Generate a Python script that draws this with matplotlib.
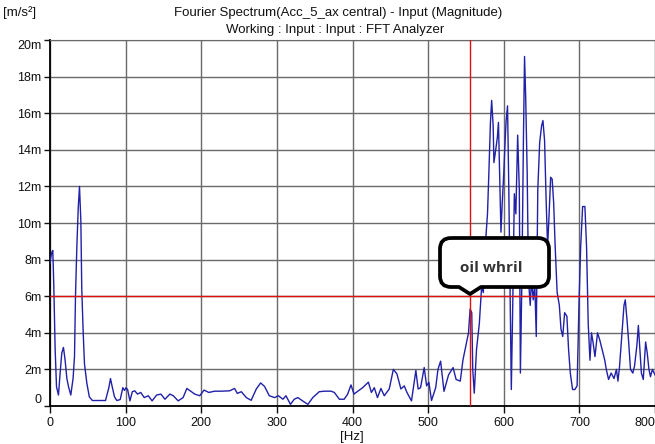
import matplotlib
matplotlib.use('Agg')
import matplotlib.pyplot as plt
from matplotlib.path import Path
from matplotlib.patches import PathPatch
import numpy as np

# spectrum, frequency in Hz and magnitude in milli m/s^2
freq = [0, 0.6, 2.4, 3.7, 5, 6.8, 8.6, 11.2, 13.4, 15.6, 17.8, 20, 22.3, 24.5, 27.5,
        30.5, 32.4, 33.7, 35.5, 37.3, 39, 40.8, 42, 43.9, 45.6, 48.7, 52, 56, 73.4,
        77.8, 80, 82, 85.3, 88.4, 92.8, 96.3, 98.5, 100.5, 102.6, 105.7, 108.8, 112,
        115.8, 120, 124.6, 130, 135, 141, 146.6, 152, 158.5, 163, 169.5, 176, 181,
        187, 191.4, 198, 203.7, 210, 217.8, 226.6, 237.6, 244, 247.7, 253, 259.6,
        266, 272.8, 278.5, 283.7, 290, 297, 302, 308, 312, 318, 323, 327.7, 334,
        341, 347.5, 356, 363, 371.7, 376, 382.6, 389, 393.6, 398, 402, 407.7,
        413.4, 421, 425, 428.8, 433, 437.6, 442, 448.6, 454, 458.7, 464, 468.4,
        472, 478, 483.8, 486.8, 490, 494.8, 498, 501, 504.5, 510, 513, 516.5,
        521, 527, 533, 537, 542.5, 546, 549, 553.4, 555.5, 557.7, 559, 561, 564,
        567.7, 570.7, 573, 575.5, 578.5, 580.3, 582.4, 584, 586, 587, 589.4,
        591.6, 593, 594.6, 596.3, 598, 600, 601.5, 603, 605, 606.7, 608.5, 610,
        612, 614, 616, 618.4, 620.6, 622, 624, 626, 627.5, 629, 631, 632.7, 635,
        636.6, 639, 641, 643, 645, 647.5, 650, 651.8, 654, 656, 658, 660, 662,
        664, 666, 668, 670.6, 673.5, 675.7, 678, 680.5, 683.5, 685.7, 688, 691,
        694, 697, 699.5, 701.7, 704.3, 707.3, 709.5, 711.7, 714, 716, 718, 720.6,
        724, 727, 730, 733.6, 735.6, 738.6, 742, 745.8, 749, 751, 753, 756.4,
        759, 760.7, 763, 765, 767.6, 770.7, 773, 776, 778, 780, 782, 784.5,
        787.6, 789.7, 792, 794, 796.5, 800]
amp = [7.8, 8.0, 8.4, 8.5, 6.6, 3.1, 1.05, 0.6, 1.8, 2.9, 3.2, 2.5, 1.5, 1.05, 0.6,
       1.5, 2.7, 6.0, 8.7, 10.8, 12.0, 10.1, 6.4, 4.0, 2.3, 1.25, 0.5, 0.3, 0.3,
       1.0, 1.5, 1.1, 0.5, 0.3, 0.35, 1.0, 0.85, 1.0, 0.9, 0.28, 0.78, 0.83,
       0.65, 0.74, 0.46, 0.56, 0.28, 0.6, 0.65, 0.37, 0.65, 0.56, 0.28, 0.46, 0.96,
       0.78, 0.65, 0.56, 0.87, 0.74, 0.81, 0.81, 0.83, 0.96, 0.69, 0.78, 0.46,
       0.31, 0.93, 1.26, 1.07, 0.56, 0.46, 0.56, 0.37, 0.56, 0.09, 0.37, 0.46, 0.28,
       0.09, 0.46, 0.78, 0.81, 0.81, 0.74, 0.37, 0.37, 0.65, 1.15, 0.65, 0.83,
       1.0, 1.3, 0.74, 1.0, 0.46, 0.96, 0.56, 0.93, 2.0, 1.76, 0.93, 1.1,
       0.74, 0.28, 1.94, 0.93, 1.0, 2.1, 1.1, 1.3, 0.3, 1.0, 2.0, 2.45,
       0.8, 1.7, 2.1, 1.45, 1.36, 2.5, 3.1, 4.0, 5.3, 5.1, 2.0, 0.7, 3.1,
       4.5, 6.5, 6.2, 8.7, 10.5, 12.7, 15.5, 16.7, 15.3, 13.3, 14.0,
       14.7, 15.5, 12.7, 9.5, 11.1, 12.7, 14.2, 15.5, 16.4, 11.8, 5.8, 0.9,
       5.8, 11.6, 10.5, 14.8, 11.8, 1.8, 6.9, 14.5, 19.1, 16.9, 12.7, 6.9, 5.5,
       6.9, 5.8, 6.7, 3.8, 11.8, 14.4, 15.3, 15.6, 14.5, 11.3, 8.7, 10.5, 12.5,
       12.4, 11.1, 8.7, 6.2, 5.5, 4.2, 3.8, 5.1, 4.9, 3.1, 1.8, 0.9,
       0.9, 1.1, 5.6, 8.7, 10.9, 10.9, 8.7, 4.5, 2.5, 4.0, 3.5, 2.7,
       4.0, 3.6, 3.1, 2.5, 2.0, 1.45, 1.8, 1.5, 2.0, 1.36, 2.1, 4.0,
       5.5, 5.8, 4.7, 3.6, 2.0, 1.8, 2.2, 3.3, 4.4, 3.1, 1.8, 1.45,
       3.5, 2.9, 2.0, 1.6, 2.0, 1.7]

xticks = [0, 100, 200, 300, 400, 500, 600, 700, 800]
yticks = [0, 2, 4, 6, 8, 10, 12, 14, 16, 18, 20]
ylabels = ['0', '2m', '4m', '6m', '8m', '10m', '12m', '14m', '16m', '18m', '20m']

cursor_x = 556   # red cursor, Hz
cursor_y = 6     # red cursor, m/s^2 (milli)

W, H = 655, 444
plt.rcParams['font.family'] = ['Liberation Sans', 'DejaVu Sans']


def px(x, y):  # pixel (y down) -> figure fraction
    return x / W, 1 - y / H


def callout(fig):
    # rounded box with a little spike pointing at the cursor crossing
    l, r, t, b, rad = 440, 549, 238, 287, 11
    pts = [(l + rad, t), (r - rad, t), (r, t), (r, t + rad), (r, b - rad), (r, b), (r - rad, b),
           (481, b), (470, 294), (459, b), (l + rad, b), (l, b), (l, b - rad),
           (l, t + rad), (l, t), (l + rad, t)]
    codes = [Path.MOVETO, Path.LINETO, Path.CURVE3, Path.CURVE3, Path.LINETO, Path.CURVE3,
             Path.CURVE3, Path.LINETO, Path.LINETO, Path.LINETO, Path.LINETO, Path.CURVE3,
             Path.CURVE3, Path.LINETO, Path.CURVE3, Path.CURVE3]
    path = Path([px(*p) for p in pts], codes)
    fig.patches.append(PathPatch(path, transform=fig.transFigure, facecolor='white',
                                 edgecolor='black', lw=2.7, joinstyle='round', zorder=5))
    fig.text(*px(491, 268), 'oil whril', ha='center', va='center', fontsize=11,
             fontweight='bold', family=['Open Sans', 'DejaVu Sans'], color='#333333', zorder=6)


def main():
    fig = plt.figure(figsize=(W / 100, H / 100), dpi=100)
    ax = fig.add_axes([50 / W, 38 / H, 605 / W, 366 / H])
    ax.plot(freq, amp, color='#2020a8', lw=1, zorder=3)
    ax.axvline(cursor_x, color='#e01010', lw=1, zorder=4)
    ax.axhline(cursor_y, color='#e01010', lw=1, zorder=4)
    ax.set_xlim(0, 800)
    ax.set_ylim(0, 20)
    ax.set_xticks(xticks)
    ax.set_yticks(yticks)
    ax.set_yticklabels(ylabels)
    ax.grid(True, color='#6a6a6a', lw=1)
    ax.set_axisbelow(True)
    for s in ['top', 'right']:
        ax.spines[s].set_color('#6a6a6a')
    for s in ['left', 'bottom']:
        ax.spines[s].set_linewidth(1.3)
    ax.tick_params(axis='x', length=5, width=1, pad=3, labelsize=9, colors='#111111')
    ax.tick_params(axis='y', length=4, width=1, pad=2, labelsize=9, colors='#111111')
    # end labels are pulled inside like the analyzer does
    ylab = ax.get_yticklabels()
    ylab[0].set_va('bottom')
    ylab[-1].set_va('top')
    ax.get_xticklabels()[-1].set_ha('right')

    fig.text(*px(338, 13), 'Fourier Spectrum(Acc_5_ax central) - Input (Magnitude)',
             ha='center', va='center', fontsize=9.5, color='#111111')
    fig.text(*px(335, 30), 'Working : Input : Input : FFT Analyzer',
             ha='center', va='center', fontsize=9.5, color='#111111')
    fig.text(*px(3, 13), '[m/s²]', ha='left', va='center', fontsize=9.5, color='#111111')
    fig.text(*px(352, 437), '[Hz]', ha='center', va='center', fontsize=9.5, color='#111111')
    callout(fig)
    fig.savefig('out.png', dpi=100)


if __name__ == '__main__':
    main()
